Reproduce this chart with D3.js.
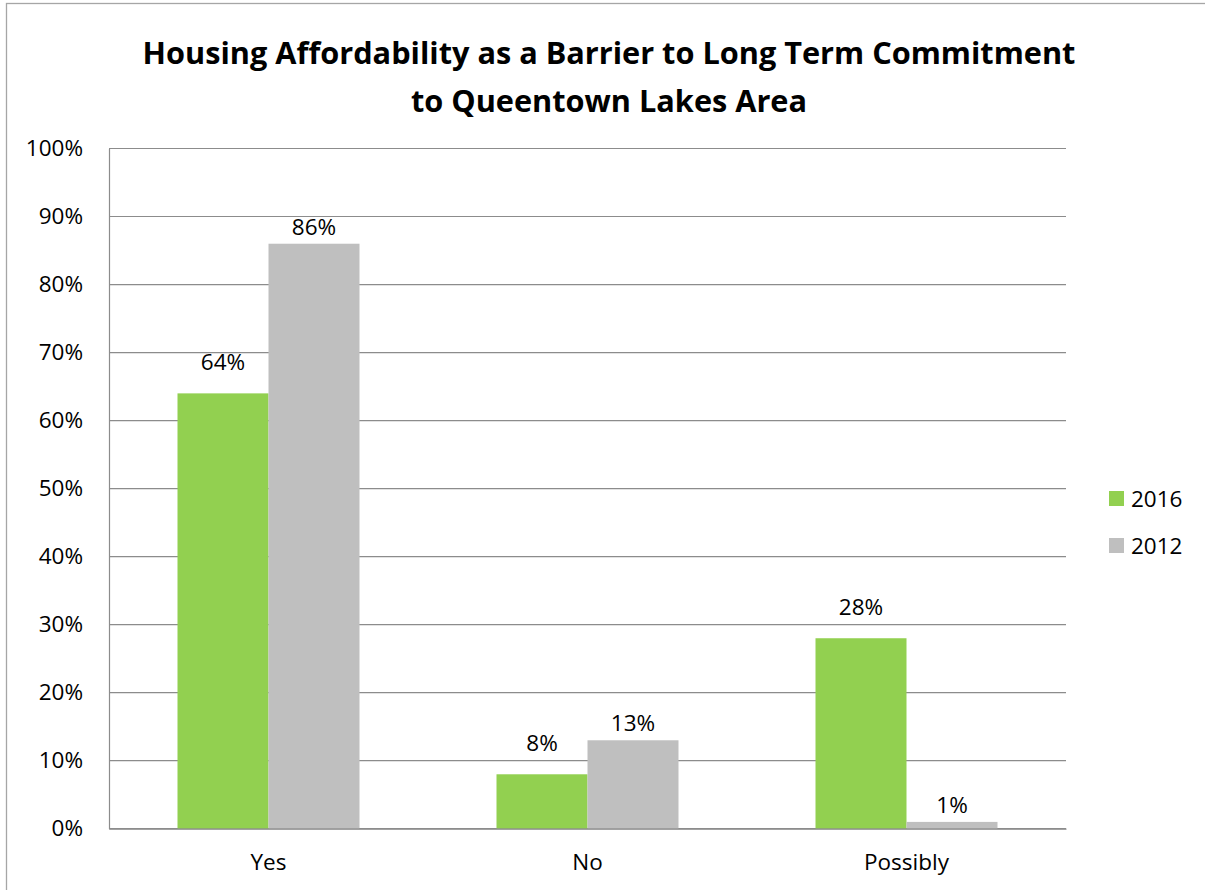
<!DOCTYPE html>
<html>
<head>
<meta charset="utf-8">
<script src="https://cdn.jsdelivr.net/npm/d3@7/dist/d3.min.js"></script>
<style>
  html, body { margin: 0; padding: 0; background: #fff; }
  svg { display: block; font-family: "Open Sans", "Liberation Sans", sans-serif; }
</style>
</head>
<body>
<svg id="chart" width="1205" height="890"></svg>
<script>
// Survey answers and the share of respondents for each year
const categories = ["Yes", "No", "Possibly"];
const seriesNames = ["2016", "2012"];
const values2016 = [0.64, 0.08, 0.28];
const values2012 = [0.86, 0.13, 0.01];
const yTicks = [0, 0.1, 0.2, 0.3, 0.4, 0.5, 0.6, 0.7, 0.8, 0.9, 1.0];
const titleLines = [
  "Housing Affordability as a Barrier to Long Term Commitment",
  "to Queentown Lakes Area"
];

const colors = { "2016": "#92D050", "2012": "#BFBFBF" };
const labelLift = { "2016": 31, "2012": 17 };

const rows = categories.map((c, i) => ({
  category: c,
  "2016": values2016[i],
  "2012": values2012[i]
}));

const svg = d3.select("#chart");
const W = 1205, H = 890;
const plot = { left: 109, right: 1066, top: 148.5, bottom: 828.7 };

// Chart frame
svg.append("rect")
  .attr("x", 6.5).attr("y", 3.5)
  .attr("width", W + 10).attr("height", H + 10)
  .attr("fill", "#fff")
  .attr("stroke", "#a6a6a6")
  .attr("stroke-width", 1.3);

// Title
svg.append("g")
  .selectAll("text")
  .data(titleLines)
  .join("text")
  .attr("x", 609)
  .attr("y", (d, i) => 53 + i * 48)
  .attr("dy", "0.35em")
  .attr("text-anchor", "middle")
  .attr("font-weight", "bold")
  .attr("font-size", 30.7)
  .attr("fill", "#000")
  .text(d => d);

const x0 = d3.scaleBand()
  .domain(categories)
  .range([plot.left, plot.right])
  .paddingInner(0)
  .paddingOuter(0);

const groupWidth = 182;
const x1 = d3.scaleBand()
  .domain(seriesNames)
  .range([0, groupWidth])
  .padding(0);

const y = d3.scaleLinear()
  .domain([0, 1])
  .range([plot.bottom, plot.top]);

// Horizontal gridlines
svg.append("g")
  .selectAll("line")
  .data(yTicks)
  .join("line")
  .attr("x1", plot.left)
  .attr("x2", plot.right)
  .attr("y1", d => y(d))
  .attr("y2", d => y(d))
  .attr("stroke", "#8c8c8c")
  .attr("stroke-width", 1.2);

// Y axis
const yAxis = svg.append("g")
  .attr("transform", `translate(${plot.left},0)`)
  .call(d3.axisLeft(y).tickValues(yTicks).tickFormat(d3.format(".0%")).tickSize(0).tickPadding(26));
yAxis.select(".domain").attr("stroke", "#8c8c8c").attr("stroke-width", 1.2);
yAxis.selectAll("text")
  .attr("font-size", 22.5)
  .attr("font-family", "'Open Sans', sans-serif")
  .attr("fill", "#000");

// Bars
const groups = svg.append("g")
  .selectAll("g")
  .data(rows)
  .join("g")
  .attr("transform", d => `translate(${x0(d.category) + (x0.bandwidth() - groupWidth) / 2},0)`);

groups.selectAll("rect")
  .data(d => seriesNames.map(s => ({ series: s, value: d[s] })))
  .join("rect")
  .attr("x", d => x1(d.series))
  .attr("width", x1.bandwidth())
  .attr("y", d => y(d.value))
  .attr("height", d => y(0) - y(d.value))
  .attr("fill", d => colors[d.series]);

// Value labels
groups.selectAll("text")
  .data(d => seriesNames.map(s => ({ series: s, value: d[s] })))
  .join("text")
  .attr("x", d => x1(d.series) + x1.bandwidth() / 2)
  .attr("y", d => y(d.value) - labelLift[d.series])
  .attr("dy", "0.35em")
  .attr("text-anchor", "middle")
  .attr("font-size", 22.5)
  .attr("fill", "#000")
  .text(d => d3.format(".0%")(d.value));

// X axis
const xAxis = svg.append("g")
  .attr("transform", `translate(0,${plot.bottom})`)
  .call(d3.axisBottom(x0).tickSize(0).tickPadding(25));
xAxis.select(".domain").attr("stroke", "#8c8c8c").attr("stroke-width", 1.2);
xAxis.selectAll("text")
  .attr("font-size", 22.5)
  .attr("font-family", "'Open Sans', sans-serif")
  .attr("fill", "#000");

// Legend
const legend = svg.append("g")
  .selectAll("g")
  .data(seriesNames)
  .join("g")
  .attr("transform", (d, i) => `translate(1109,${491 + i * 47})`);
legend.append("rect")
  .attr("width", 15).attr("height", 15)
  .attr("fill", d => colors[d]);
legend.append("text")
  .attr("x", 22).attr("y", 8)
  .attr("dy", "0.35em")
  .attr("font-size", 22.5)
  .attr("fill", "#000")
  .text(d => d);
</script>
</body>
</html>
